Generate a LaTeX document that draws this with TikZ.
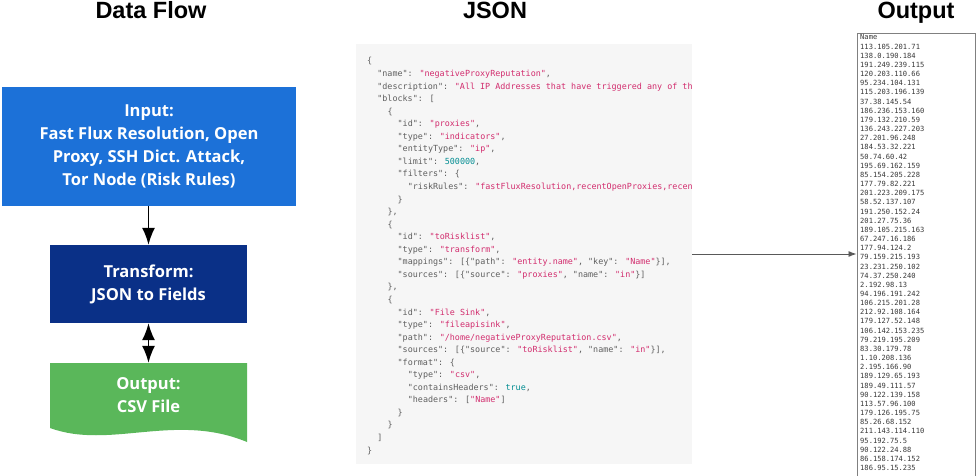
\documentclass[tikz,border=0pt]{standalone}
\usepackage{fontspec}
\newfontfamily\headfont{Liberation Sans}
\newfontfamily\boxfont{Open Sans}
\newfontfamily\codefont[Ligatures=TeXOff]{DejaVu Sans Mono}
\usetikzlibrary{arrows.meta}

\definecolor{inblue}{RGB}{28,113,216}
\definecolor{xfnavy}{RGB}{10,48,135}
\definecolor{docgreen}{RGB}{90,183,90}
\definecolor{jsonbg}{RGB}{246,246,246}
\definecolor{jkey}{RGB}{95,95,95}
\definecolor{jstr}{RGB}{210,45,110}
\definecolor{jnum}{RGB}{0,140,145}
\definecolor{iptxt}{RGB}{55,55,55}

\tikzset{
  headline/.style={font=\headfont\bfseries\fontsize{23.5}{26}\selectfont, anchor=base, inner sep=0pt},
  stepbox/.style={font=\boxfont\bfseries\fontsize{16.5}{23}\selectfont, text=white, align=center, inner sep=0pt},
  codeline/.style={anchor=base west, inner sep=0pt, font=\codefont\fontsize{8.4}{10}\selectfont, text=jkey},
  iptext/.style={anchor=base west, inner sep=0pt, font=\codefont\fontsize{7.1}{9}\selectfont, text=iptxt},
  flowarrow/.style={line width=1.5pt, -{Latex[length=17pt,width=13pt]}},
  linkarrow/.style={line width=0.9pt, draw=black!65, -{Latex[length=8pt,width=6pt]}}
}

% json colouring
\newcommand\jk[1]{\textcolor{jkey}{"#1"}}
\newcommand\js[1]{\textcolor{jstr}{"#1"}}
\newcommand\jn[1]{\textcolor{jnum}{#1}}
\newcommand\jline[3]{\node[codeline] (j#1) at ({367+5.08*#2},{64+12.55*(#1-1)}) {#3};}

\begin{document}
\begin{tikzpicture}[x=1pt, y=-1pt]
  \useasboundingbox (0,0) rectangle (978,476);
  \clip (0,0) rectangle (978,476);

  % headings
  \node[headline] (hflow) at (151,18.5) {Data Flow};
  \node[headline] (hjson) at (495,19) {JSON};
  \node[headline] (hout) at (916,19) {Output};

  % data flow
  \node[stepbox, fill=inblue, minimum width=294pt, minimum height=119pt] (input) at (149,146.5)
    {Input:\\Fast Flux Resolution, Open\\Proxy, SSH Dict. Attack,\\Tor Node (Risk Rules)};
  \node[stepbox, fill=xfnavy, minimum width=197pt, minimum height=78pt] (xform) at (148.5,284)
    {Transform:\\JSON to Fields};
  \fill[docgreen] (50,363) -- (247,363) -- (247,442)
    .. controls (175,412) and (110,450) .. (50,428) -- cycle;
  \node[stepbox, minimum width=197pt, minimum height=65pt] (csv) at (148.5,395.5)
    {Output:\\CSV File};
  \draw[flowarrow] (xform.north |- input.south) -- (xform.north);
  \draw[flowarrow, {Latex[length=17pt,width=13pt]}-{Latex[length=17pt,width=13pt]}] (xform) -- (csv);

  % json
  \node[fill=jsonbg, minimum width=336pt, minimum height=420pt, inner sep=0pt] (json) at (524,254) {};
  \begin{scope}
    \clip (json.south west) rectangle (json.north east);
    \jline{1}{0}{\{}
    \jline{2}{2}{\jk{name}: \js{negativeProxyReputation},}
    \jline{3}{2}{\jk{description}: \js{All IP Addresses that have triggered any of the}}
    \jline{4}{2}{\jk{blocks}: [}
    \jline{5}{4}{\{}
    \jline{6}{6}{\jk{id}: \js{proxies},}
    \jline{7}{6}{\jk{type}: \js{indicators},}
    \jline{8}{6}{\jk{entityType}: \js{ip},}
    \jline{9}{6}{\jk{limit}: \jn{500000},}
    \jline{10}{6}{\jk{filters}: \{}
    \jline{11}{8}{\jk{riskRules}: \textcolor{jstr}{"fastFluxResolution,recentOpenProxies,recent}}
    \jline{12}{6}{\}}
    \jline{13}{4}{\},}
    \jline{14}{4}{\{}
    \jline{15}{6}{\jk{id}: \js{toRisklist},}
    \jline{16}{6}{\jk{type}: \js{transform},}
    \jline{17}{6}{\jk{mappings}: [\{\jk{path}: \js{entity.name}, \jk{key}: \js{Name}\}],}
    \jline{18}{6}{\jk{sources}: [\{\jk{source}: \js{proxies}, \jk{name}: \js{in}\}]}
    \jline{19}{4}{\},}
    \jline{20}{4}{\{}
    \jline{21}{6}{\jk{id}: \js{File Sink},}
    \jline{22}{6}{\jk{type}: \js{fileapisink},}
    \jline{23}{6}{\jk{path}: \js{/home/negativeProxyReputation.csv},}
    \jline{24}{6}{\jk{sources}: [\{\jk{source}: \js{toRisklist}, \jk{name}: \js{in}\}],}
    \jline{25}{6}{\jk{format}: \{}
    \jline{26}{8}{\jk{type}: \js{csv},}
    \jline{27}{8}{\jk{containsHeaders}: \jn{true},}
    \jline{28}{8}{\jk{headers}: [\js{Name}]}
    \jline{29}{6}{\}}
    \jline{30}{4}{\}}
    \jline{31}{2}{]}
    \jline{32}{0}{\}}
  \end{scope}

  % output list
  \node[draw=black!50, line width=1pt, fill=white, minimum width=118pt, minimum height=520pt, inner sep=0pt] (csvlist) at (916,294) {};
  \node[iptext] (ipname) at (860,40) {Name};
  \foreach \ip [count=\n] in {113.105.201.71, 138.0.190.184, 191.249.239.115, 120.203.110.66,
      95.234.104.131, 115.203.196.139, 37.38.145.54, 186.236.153.160, 179.132.210.59,
      136.243.227.203, 27.201.96.248, 184.53.32.221, 50.74.60.42, 195.69.162.159,
      85.154.205.228, 177.79.82.221, 201.223.209.175, 58.52.137.107, 191.250.152.24,
      201.27.75.36, 189.105.215.163, 67.247.16.186, 177.94.124.2, 79.159.215.193,
      23.231.250.102, 74.37.250.240, 2.192.98.13, 94.196.191.242, 106.215.201.28,
      212.92.108.164, 179.127.52.148, 106.142.153.235, 79.219.195.209, 83.30.179.78,
      1.10.208.136, 2.195.166.90, 189.129.65.193, 189.49.111.57, 90.122.139.158,
      113.57.96.100, 179.126.195.75, 85.26.68.152, 211.143.114.110, 95.192.75.5,
      90.122.24.88, 86.158.174.152, 186.95.15.235}
    \node[iptext] (ip\n) at (860,{40+9.16*\n}) {\ip};

  \draw[linkarrow] (json.east) -- (json.east -| csvlist.west);
\end{tikzpicture}
\end{document}
